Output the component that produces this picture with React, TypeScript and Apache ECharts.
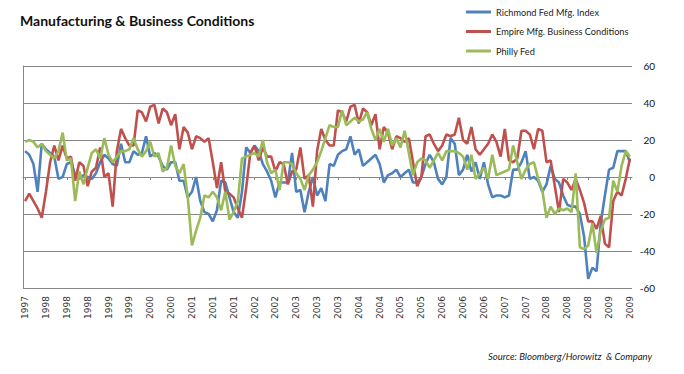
import React, { useEffect, useRef } from "react";
import * as echarts from "echarts";

const seriesNames = ["Richmond Fed Mfg. Index", "Empire Mfg. Business Conditions", "Philly Fed"];
const seriesColors = ["#4F81BD", "#C0504D", "#9BBB59"];

const startYear = 1997;
const startMonth = 9; // September

const richmond = [
  14, 12, 7, -8, 18, 15, 13, 11, -1, 0, 7, 8, 1, -1, 1, 0, -1, 2, 8, 12, 10, 7, 6, 18, 8,
  8, 14, 12, 13, 22, 11, 13, 11, 6, 4, 8, 8, -2, -2, -11, -8, 0, -13, -19, -20, -24, -18, -2, -3,
  -11, -19, -22, -8, 16, 13, 17, 14, 7, 3, -2, -11, -3, -3, -3, 13, -8, -7, -19, -8, 0, -10, -6, -13,
  7, 6, 12, 14, 15, 22, 12, 15, 6, 8, 10, 12, 7, -3, 1, 2, 4, 0, 2, 4, -3, -3, 0, 7,
  12, 8, -1, -4, 0, 21, 18, 1, 4, 12, 3, 8, -1, 8, -4, -11, -10, -10, -11, -10, 4, 4, 8, 14,
  -1, 0, -2, -8, -4, 6, -1, -3, -10, -15, -16, -16, -20, -32, -55, -49, -51, -25, -10, 4, 5, 14, 14, 14, 8,
];

const empire = [
  -13, -9, -13, -17, -22, -8, 8, 17, 9, 17, 10, 11, -2, 8, 6, -5, 3, 5, 16, 0, 2, -16, 14, 26, 21,
  17, 17, 36, 35, 30, 38, 39, 29, 37, 35, 28, 34, 15, 27, 24, 15, 22, 21, 19, 21, 8, -6, 8, -8,
  -9, -11, -17, -22, -6, 13, 17, 9, 16, 11, 11, 3, 8, 7, -4, 3, 4, 16, -1, 1, -16, 14, 26, 20,
  17, 17, 36, 35, 30, 38, 39, 29, 37, 35, 28, 34, 15, 27, 24, 15, 22, 21, 19, 21, 8, -5, 0, 22,
  23, 18, 14, 17, 23, 22, 23, 32, 20, 18, 27, 15, 12, 15, 18, 23, 19, 11, 26, 9, 8, 10, 25, 25,
  23, 15, 26, 25, 8, 9, -5, -19, -1, -3, -7, -1, -7, -14, -24, -24, -28, -21, -36, -38, -13, -8, -10, -1, 10,
];

const philly = [
  19, 20, 19, 16, 18, 14, 12, 10, 14, 24, 9, 10, -13, 3, -4, 5, 13, 15, 10, 21, 12, 8, 11, 14, 14,
  15, 21, 15, 11, 14, 19, 11, 13, 3, 5, 17, 6, 2, 7, -11, -37, -29, -22, -10, -11, -8, -11, -18, -8,
  -23, -19, -13, 10, 11, 12, 13, 11, 20, 8, 2, 4, -7, 8, 8, 7, 2, -1, -7, 1, 4, 8, 14, 21,
  28, 27, 27, 36, 28, 30, 32, 30, 31, 35, 26, 20, 26, 19, 26, 17, 21, 16, 25, 13, 1, 8, 10, 9,
  5, 9, 13, 9, 14, 14, 14, 13, 11, 4, 12, -1, 2, 5, -1, 12, 1, 2, 3, 4, 17, 8, -1, 4,
  7, 8, -1, -7, -22, -16, -20, -17, -18, -17, -19, 2, -38, -39, -37, -25, -41, -29, -23, -22, -2, -8, 6, 14, 11,
];

const yMin = -60;
const yMax = 60;
const yStep = 20;
const labelEvery = 5;

const titleText = "Manufacturing & Business Conditions";
const sourceText = "Source: Bloomberg/Horowitz  & Company";

const months: string[] = richmond.map((_, i) => {
  const m0 = startMonth - 1 + i;
  const y = startYear + Math.floor(m0 / 12);
  const m = (m0 % 12) + 1;
  return `${y}-${m < 10 ? "0" + m : m}`;
});

export default function App() {
  const ref = useRef<HTMLDivElement>(null);
  useEffect(() => {
    if (!ref.current) return;
    const chart = echarts.init(ref.current, undefined, { renderer: "svg" });
    const gridColor = "#868686";
    const dataSets = [richmond, empire, philly];
    chart.setOption({
      animation: false,
      backgroundColor: "#ffffff",
      grid: { left: 23, right: 52, top: 66, bottom: 86, containLabel: false },
      legend: {
        orient: "vertical",
        left: 466,
        top: 6,
        padding: 0,
        itemGap: 7.5,
        itemWidth: 25,
        itemHeight: 3,
        itemTextGap: 3,
        icon: "rect",
        data: seriesNames,
        textStyle: { fontFamily: "Lato", fontSize: 9.2, color: "#222", lineHeight: 12 },
      },
      graphic: [
        {
          type: "text",
          left: 20,
          top: 13,
          style: { text: titleText, font: "bold 14px Lato", fill: "#111" },
        },
        {
          type: "text",
          right: 32,
          top: 351,
          style: { text: sourceText, font: "italic 9.5px Lato", fill: "#222" },
        },
      ],
      xAxis: [
        {
          type: "category",
          data: months,
          boundaryGap: true,
          position: "bottom",
          axisLine: { show: false, onZero: false },
          axisTick: { show: false },
          axisLabel: {
            interval: labelEvery - 1,
            rotate: 90,
            margin: 8,
            fontFamily: "DejaVu Sans",
            fontSize: 9,
            color: "#333",
            formatter: (v: string) => v.slice(0, 4),
          },
          splitLine: { show: false },
        },
        {
          type: "category",
          data: months,
          boundaryGap: true,
          position: "top",
          axisLine: { show: true, onZero: true, onZeroAxisIndex: 0, lineStyle: { color: gridColor, width: 1 } },
          axisTick: { show: true, inside: true, interval: labelEvery - 1, alignWithLabel: true, length: 3, lineStyle: { color: gridColor } },
          axisLabel: { show: false, interval: labelEvery - 1 },
          splitLine: { show: false },
        },
      ],
      yAxis: [
        {
          type: "value",
          position: "left",
          min: yMin,
          max: yMax,
          interval: yStep,
          axisLine: { show: true, onZero: false, lineStyle: { color: gridColor, width: 1 } },
          axisTick: { show: false },
          axisLabel: { show: false },
          splitLine: { show: true, lineStyle: { color: gridColor, width: 1 } },
        },
        {
          type: "value",
          position: "right",
          min: yMin,
          max: yMax,
          interval: yStep,
          axisLine: { show: false },
          axisTick: { show: false },
          axisLabel: { show: true, align: "right", margin: 23, fontFamily: "Lato", fontSize: 10, color: "#111" },
          splitLine: { show: false },
        },
      ],
      series: dataSets.map((d, k) => ({
        name: seriesNames[k],
        type: "line",
        data: d,
        xAxisIndex: 0,
        yAxisIndex: 0,
        symbol: "none",
        color: seriesColors[k],
        lineStyle: { width: 2.6, color: seriesColors[k] },
      })),
    });
    return () => chart.dispose();
  }, []);
  return (
    <div
      ref={ref}
      style={{ position: "fixed", left: 0, top: 0, width: 684, height: 374, background: "#fff" }}
    />
  );
}
